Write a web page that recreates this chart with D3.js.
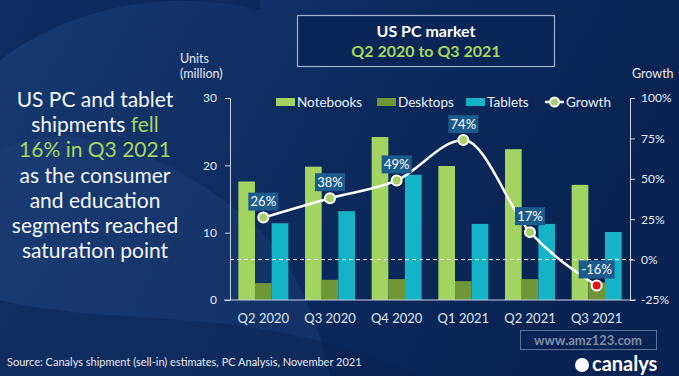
<!DOCTYPE html>
<html lang="en">
<head>
<meta charset="utf-8">
<title>US PC market</title>
<script src="https://cdn.jsdelivr.net/npm/d3@7"></script>
<style>
  body { margin: 0; background: #0c2656; }
  svg { display: block; font-family: Lato, "Open Sans", sans-serif; }
</style>
</head>
<body>
<script>
var w = 679, h = 376;

// Data
var quarters = ["Q2 2020", "Q3 2020", "Q4 2020", "Q1 2021", "Q2 2021", "Q3 2021"];
var seriesNames = ["Notebooks", "Desktops", "Tablets"];
var notebooks = [17.6, 19.8, 24.2, 19.9, 22.4, 17.1];
var desktops = [2.5, 3.0, 3.1, 2.8, 3.1, 2.6];
var tablets = [11.4, 13.2, 18.6, 11.3, 11.3, 10.1];
var growth = [26, 38, 49, 74, 17, -16];
var unitTicks = [0, 10, 20, 30];
var growthTicks = [-25, 0, 25, 50, 75, 100];

var colors = { Notebooks: "#a3d361", Desktops: "#6f9737", Tablets: "#15b3c6" };
var green = "#a5d65e";

var svg = d3.select("body").append("svg").attr("width", w).attr("height", h);

// background
var defs = svg.append("defs");
var bg = defs.append("linearGradient").attr("id", "bg").attr("x1", 0).attr("y1", 0).attr("x2", 1).attr("y2", 0.3);
bg.append("stop").attr("offset", "0%").attr("stop-color", "#173a72");
bg.append("stop").attr("offset", "55%").attr("stop-color", "#0d2a5d");
bg.append("stop").attr("offset", "100%").attr("stop-color", "#0a2352");
svg.append("rect").attr("width", w).attr("height", h).attr("fill", "url(#bg)");
svg.append("path")
  .attr("d", "M0,60 C80,0 180,-10 260,10 L260,0 L0,0 Z")
  .attr("fill", "#0c2758").attr("opacity", 0.7);
svg.append("path")
  .attr("d", "M0,150 C60,120 160,140 260,230 C300,270 320,330 330,376 L0,376 Z")
  .attr("fill", "#21467f").attr("opacity", 0.35);
svg.append("path")
  .attr("d", "M0,300 C120,330 250,300 420,376 L0,376 Z")
  .attr("fill", "#0b2250").attr("opacity", 0.5);

// scales
var x = d3.scaleBand().domain(quarters).range([230, 630]).paddingInner(0.25).paddingOuter(0.125);
var xs = d3.scaleBand().domain(seriesNames).range([0, x.bandwidth()]);
var y = d3.scaleLinear().domain([0, 30]).range([300, 98]);
var yg = d3.scaleLinear().domain([-25, 100]).range([300, 98]);

// axes
var yAxis = d3.axisLeft(y).tickValues(unitTicks).tickSize(5).tickPadding(8);
var gAxis = d3.axisRight(yg).tickValues(growthTicks).tickSize(5).tickPadding(6)
  .tickFormat(function(d) { return d + "%"; });

var gl = svg.append("g").attr("transform", "translate(230,0)").call(yAxis);
var gr = svg.append("g").attr("transform", "translate(630,0)").call(gAxis);
[gl, gr].forEach(function(g) {
  g.select(".domain").attr("stroke", "#c9d3e3");
  g.selectAll(".tick line").attr("stroke", "#c9d3e3");
  g.selectAll(".tick text").attr("fill", "#e4eaf4").attr("font-size", 12)
    .attr("font-family", "Lato, sans-serif");
});

// bars
var rows = quarters.map(function(q, i) {
  return { q: q, vals: [notebooks[i], desktops[i], tablets[i]] };
});
var groups = svg.append("g").selectAll("g").data(rows).enter().append("g")
  .attr("transform", function(d) { return "translate(" + x(d.q) + ",0)"; });
groups.selectAll("rect")
  .data(function(d) { return d.vals.map(function(v, j) { return { s: seriesNames[j], v: v }; }); })
  .enter().append("rect")
  .attr("x", function(d) { return xs(d.s); })
  .attr("width", xs.bandwidth())
  .attr("y", function(d) { return y(d.v); })
  .attr("height", function(d) { return y(0) - y(d.v); })
  .attr("fill", function(d) { return colors[d.s]; });

// baseline and zero growth line
svg.append("line").attr("x1", 224).attr("x2", 636).attr("y1", y(0)).attr("y2", y(0))
  .attr("stroke", "#c9d3e3").attr("stroke-width", 1);
svg.append("line").attr("x1", 230).attr("x2", 636).attr("y1", yg(0)).attr("y2", yg(0))
  .attr("stroke", "#e8eef7").attr("stroke-width", 1).attr("stroke-dasharray", "4,3");

// x labels
svg.append("g").selectAll("text").data(quarters).enter().append("text")
  .attr("x", function(d) { return x(d) + x.bandwidth() / 2; })
  .attr("y", 323)
  .attr("text-anchor", "middle")
  .attr("fill", "#dfe7f3").attr("font-size", 13)
  .text(function(d) { return d; });

// growth line
var pts = quarters.map(function(q, i) { return [x(q) + x.bandwidth() / 2, yg(growth[i])]; });
svg.append("path").datum(pts)
  .attr("d", d3.line().curve(d3.curveMonotoneX))
  .attr("fill", "none").attr("stroke", "#ffffff").attr("stroke-width", 2.5);
svg.append("g").selectAll("circle").data(pts).enter().append("circle")
  .attr("cx", function(d) { return d[0]; })
  .attr("cy", function(d) { return d[1]; })
  .attr("r", 5)
  .attr("fill", function(d, i) { return i === pts.length - 1 ? "#e3141c" : "#a9d068"; })
  .attr("stroke", "#ffffff").attr("stroke-width", 2);

// growth labels
var lab = svg.append("g").selectAll("g").data(pts).enter().append("g")
  .attr("transform", function(d) { return "translate(" + d[0] + "," + (d[1] - 16) + ")"; });
lab.append("rect").attr("x", function(d, i) { return growth[i] < 0 ? -18 : -15; })
  .attr("y", -9).attr("height", 18)
  .attr("width", function(d, i) { return growth[i] < 0 ? 36 : 30; })
  .attr("fill", "#1c5b8c");
lab.append("text").attr("text-anchor", "middle").attr("dy", "0.35em")
  .attr("fill", "#ffffff").attr("font-size", 13)
  .text(function(d, i) { return growth[i] + "%"; });

// legend
var legend = svg.append("g");
var legX = [276, 377, 466];
seriesNames.forEach(function(s, i) {
  legend.append("rect").attr("x", legX[i]).attr("y", 98).attr("width", 19).attr("height", 8).attr("fill", colors[s]);
  legend.append("text").attr("x", legX[i] + 21).attr("y", 107).attr("fill", "#eef2f8").attr("font-size", 13.5).text(s);
});
legend.append("line").attr("x1", 545).attr("x2", 564).attr("y1", 102).attr("y2", 102).attr("stroke", "#fff").attr("stroke-width", 2.5);
legend.append("circle").attr("cx", 554.5).attr("cy", 102).attr("r", 4.5).attr("fill", "#a9d068").attr("stroke", "#fff").attr("stroke-width", 2);
legend.append("text").attr("x", 566).attr("y", 107).attr("fill", "#eef2f8").attr("font-size", 13.5).text("Growth");

// axis titles
svg.append("text").attr("x", 180).attr("y", 63).attr("fill", "#e4eaf4").attr("font-size", 12.5).text("Units");
svg.append("text").attr("x", 180).attr("y", 78).attr("fill", "#e4eaf4").attr("font-size", 12.5).text("(million)");
svg.append("text").attr("x", 632).attr("y", 78).attr("fill", "#e4eaf4").attr("font-size", 12.5).text("Growth");

// title box
svg.append("rect").attr("x", 297.5).attr("y", 15.5).attr("width", 257).attr("height", 51)
  .attr("fill", "#0b2556").attr("stroke", "#9fb3cf").attr("stroke-width", 1.2);
svg.append("text").attr("x", 426).attr("y", 37).attr("text-anchor", "middle")
  .attr("fill", "#ffffff").attr("font-size", 16).attr("font-weight", "bold").text("US PC market");
svg.append("text").attr("x", 426).attr("y", 57).attr("text-anchor", "middle")
  .attr("fill", green).attr("font-size", 16).attr("font-weight", "bold").text("Q2 2020 to Q3 2021");

// left headline
var lines = [
  [["US PC and tablet", "#f2f5fa"]],
  [["shipments ", "#f2f5fa"], ["fell", green]],
  [["16% in Q3 2021", green]],
  [["as the consumer", "#f2f5fa"]],
  [["and education", "#f2f5fa"]],
  [["segments reached", "#f2f5fa"]],
  [["saturation point", "#f2f5fa"]]
];
var head = svg.append("text").attr("text-anchor", "middle").attr("font-size", 21);
lines.forEach(function(parts, i) {
  var t = head.append("tspan").attr("x", 95).attr("y", 107 + i * 25.2);
  parts.forEach(function(p, k) {
    var s = k === 0 ? t : head.append("tspan");
    if (k === 0) { s.text(p[0]).attr("fill", p[1]); }
    else { s.text(p[0]).attr("fill", p[1]); }
  });
});

// source
svg.append("text").attr("x", 7).attr("y", 366).attr("fill", "#e4eaf4").attr("font-size", 11)
  .text("Source: Canalys shipment (sell-in) estimates, PC Analysis, November 2021");

// watermark and logo
svg.append("rect").attr("x", 520.5).attr("y", 330.5).attr("width", 136).attr("height", 19)
  .attr("fill", "none").attr("stroke", "#5f7396").attr("stroke-width", 1);
svg.append("text").attr("x", 588).attr("y", 345).attr("text-anchor", "middle")
  .attr("fill", "#7f8ea8").attr("font-size", 13).attr("font-weight", "bold").text("www.amz123.com");
svg.append("circle").attr("cx", 582).attr("cy", 365).attr("r", 7).attr("fill", "#ffffff");
svg.append("text").attr("x", 592).attr("y", 371).attr("fill", "#ffffff").attr("font-size", 20)
  .attr("font-weight", "bold").text("canalys");
</script>
</body>
</html>
